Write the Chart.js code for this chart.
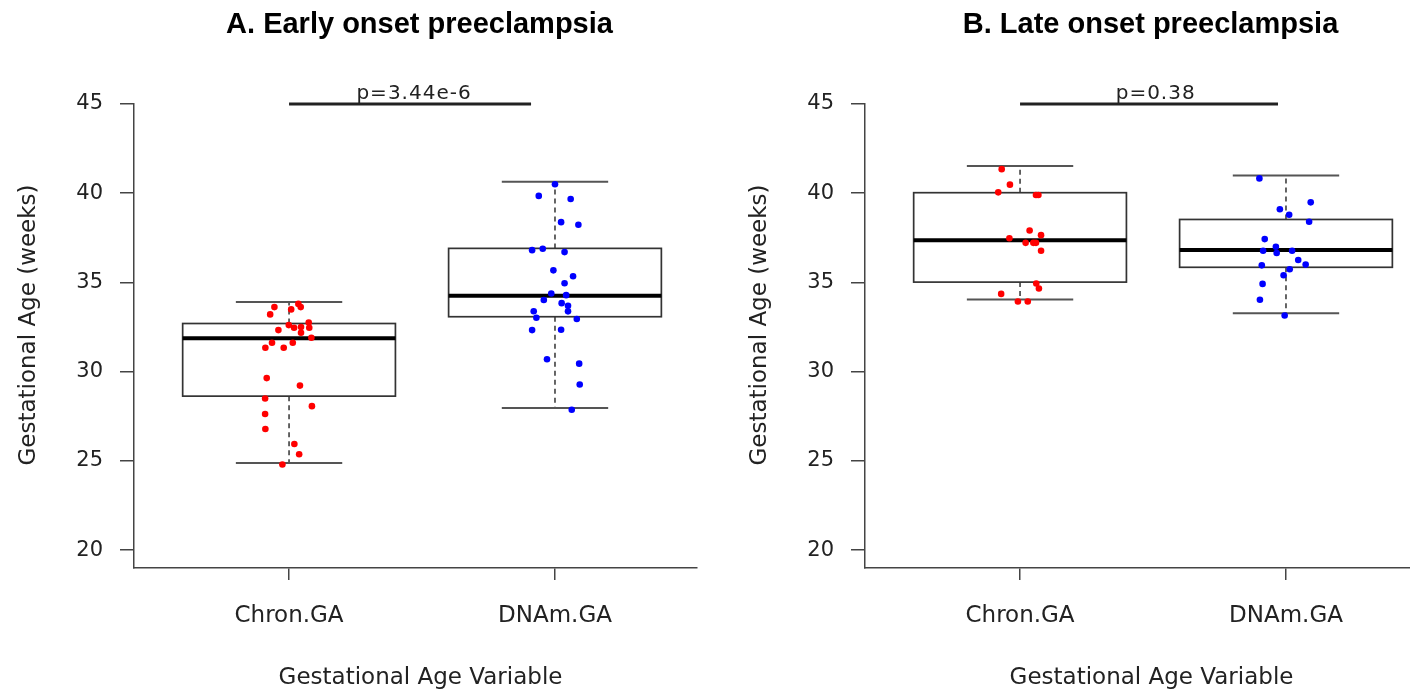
<!DOCTYPE html>
<html>
<head>
<meta charset="utf-8">
<script src="https://cdn.jsdelivr.net/npm/chart.js@4/dist/chart.umd.min.js"></script>
<style>
  html, body { margin: 0; padding: 0; background: #fff; overflow: hidden; width: 1410px; height: 691px; }
  .panel { position: absolute; top: 0; width: 731px; height: 691px; }
  #panelA { left: 0; }
  #panelB { left: 731px; }
</style>
</head>
<body>
<div class="panel" id="panelA"><canvas id="chartA" width="731" height="691"></canvas></div>
<div class="panel" id="panelB"><canvas id="chartB" width="731" height="691"></canvas></div>
<script>
// ====================== DATA ======================
const groups = ["Chron.GA", "DNAm.GA"];
const yTicks = [20, 25, 30, 35, 40, 45];

// A. Early onset
const earlyChron = [33.62, 33.8, 33.62, 33.49, 33.21, 32.76, 32.61, 32.46, 32.5, 32.46, 32.33, 32.18, 31.9,
  31.62, 31.62, 31.34, 31.34, 29.64, 29.22, 28.5, 28.07, 27.63, 26.79, 25.95, 25.37, 24.8];
const earlyChronJitter = [-0.055, 0.035, 0.044, 0.008, -0.071, 0.074, -0.001, 0.019, 0.045, 0.076, -0.040, 0.045, 0.084,
  -0.064, 0.014, -0.089, -0.020, -0.084, 0.041, -0.090, 0.086, -0.090, -0.089, 0.020, 0.038, -0.025];
const earlyDnam = [40.5, 39.85, 39.68, 38.38, 38.23, 36.81, 36.89, 36.7, 35.68, 35.35, 34.96, 34.38, 34.29,
  34.02, 33.84, 33.69, 33.38, 33.39, 33.02, 32.95, 32.33, 32.35, 30.7, 30.45, 29.28, 27.87];
const earlyDnamJitter = [0, -0.061, 0.059, 0.023, 0.088, -0.086, -0.046, 0.036, -0.006, 0.068, 0.036, -0.014, 0.042,
  -0.042, 0.025, 0.049, 0.049, -0.080, -0.070, 0.082, -0.086, 0.023, -0.030, 0.091, 0.093, 0.063];
// [lower whisker, q1, median, q3, upper whisker]
const earlyChronBox = [24.88, 28.63, 31.87, 32.70, 33.91];
const earlyDnamBox = [27.96, 33.08, 34.25, 36.91, 40.64];

// B. Late onset
const lateChron = [41.35, 40.48, 40.05, 39.9, 39.9, 37.91, 37.65, 37.48, 37.22, 37.22, 37.22, 36.78,
  34.94, 34.66, 34.36, 33.93, 33.93];
const lateChronJitter = [-0.069, -0.038, -0.082, 0.060, 0.069, 0.036, 0.079, -0.040, 0.021, 0.050, 0.060, 0.079,
  0.061, 0.071, -0.071, -0.008, 0.029];
const lateDnam = [40.83, 39.49, 39.1, 38.79, 38.4, 37.43, 37.0, 36.78, 36.65, 36.78, 36.26, 36.0, 35.96,
  35.74, 35.4, 34.92, 34.03, 33.15];
const lateDnamJitter = [-0.100, 0.093, -0.023, 0.012, 0.087, -0.080, -0.038, -0.086, -0.035, 0.023, 0.046, 0.074, -0.091,
  0.014, -0.009, -0.088, -0.098, -0.005];
const lateChronBox = [34.05, 35.02, 37.36, 40.03, 41.52];
const lateDnamBox = [33.27, 35.85, 36.82, 38.53, 41.0];

const fontFam = '"DejaVu Sans", sans-serif';
const axisColor = "#444";

// ====================== BOX PLOT PLUGIN ======================
const boxPlugin = {
  id: "boxPlot",
  beforeDatasetsDraw(chart, args, opts) {
    const { ctx } = chart;
    const x = chart.scales.x, y = chart.scales.y;
    opts.boxes.forEach((b, i) => {
      const cx = i + 1;
      const left = x.getPixelForValue(cx - 0.4), right = x.getPixelForValue(cx + 0.4);
      const capL = x.getPixelForValue(cx - 0.2), capR = x.getPixelForValue(cx + 0.2);
      const mid = x.getPixelForValue(cx);
      const [lo, q1, med, q3, hi] = b.map(v => y.getPixelForValue(v));
      ctx.save();
      // whiskers
      ctx.strokeStyle = "#333";
      ctx.lineWidth = 1.5;
      ctx.setLineDash([5, 4]);
      ctx.beginPath();
      ctx.moveTo(mid, q3); ctx.lineTo(mid, hi);
      ctx.moveTo(mid, q1); ctx.lineTo(mid, lo);
      ctx.stroke();
      ctx.setLineDash([]);
      ctx.strokeStyle = "#555";
      ctx.lineWidth = 2;
      ctx.beginPath();
      ctx.moveTo(capL, hi); ctx.lineTo(capR, hi);
      ctx.moveTo(capL, lo); ctx.lineTo(capR, lo);
      ctx.stroke();
      // box
      ctx.strokeStyle = "#333";
      ctx.lineWidth = 1.7;
      ctx.strokeRect(left, q3, right - left, q1 - q3);
      // median
      ctx.strokeStyle = "#000";
      ctx.lineWidth = 4;
      ctx.beginPath();
      ctx.moveTo(left, med); ctx.lineTo(right, med);
      ctx.stroke();
      ctx.restore();
    });
  },
  afterDraw(chart, args, opts) {
    const { ctx, chartArea } = chart;
    const x = chart.scales.x, y = chart.scales.y;
    ctx.save();
    // title
    ctx.fillStyle = "#000";
    ctx.font = 'bold 29px "Liberation Sans", Arial, sans-serif';
    ctx.textAlign = "center";
    ctx.textBaseline = "alphabetic";
    ctx.fillText(opts.title, (chartArea.left + chartArea.right) / 2 + 4, 33);
    // axis titles
    ctx.fillStyle = "#222";
    ctx.font = "23px " + fontFam;
    ctx.fillText("Gestational Age Variable", (chartArea.left + chartArea.right) / 2 + 5, 684);
    ctx.save();
    ctx.translate(29, 325);
    ctx.rotate(-Math.PI / 2);
    ctx.textBaseline = "middle";
    ctx.fillText("Gestational Age (weeks)", 0, 0);
    ctx.restore();
    // p-value bar
    const py = y.getPixelForValue(45);
    ctx.strokeStyle = "#222";
    ctx.lineWidth = 3;
    ctx.beginPath();
    ctx.moveTo(x.getPixelForValue(opts.pFrom), py);
    ctx.lineTo(x.getPixelForValue(opts.pTo), py);
    ctx.stroke();
    ctx.font = "20px " + fontFam;
    ctx.letterSpacing = "1px";
    ctx.fillText(opts.pLabel, x.getPixelForValue(opts.pLabelX), py - 5);
    ctx.restore();
  }
};

// ====================== CREATE PANEL ======================
function createPanel(canvasId, title, chronVals, chronJit, dnamVals, dnamJit, chronBox, dnamBox, pLabel, pTo, pLabelX) {
  const ctx = document.getElementById(canvasId).getContext("2d");
  return new Chart(ctx, {
    type: "scatter",
    data: {
      datasets: [
        { data: chronVals.map((v, i) => ({ x: 1 + chronJit[i], y: v })), backgroundColor: "#ff0000" },
        { data: dnamVals.map((v, i) => ({ x: 2 + dnamJit[i], y: v })), backgroundColor: "#0000ff" }
      ]
    },
    options: {
      responsive: false,
      animation: false,
      layout: { padding: { top: 104, right: 34, bottom: 0, left: 0 } },
      elements: { point: { radius: 3.3, borderWidth: 0, hoverRadius: 3.3 } },
      plugins: {
        legend: { display: false },
        tooltip: { enabled: false },
        boxPlot: { boxes: [chronBox, dnamBox], title, pLabel, pFrom: 1, pTo, pLabelX }
      },
      scales: {
        x: {
          type: "linear",
          min: 0.417,
          max: 2.534,
          afterBuildTicks: s => { s.ticks = groups.map((g, i) => ({ value: i + 1 })); },
          afterFit: s => { s.height = 123; },
          grid: { drawOnChartArea: false, tickLength: 12, color: axisColor, lineWidth: 1.5 },
          border: { color: axisColor, width: 1.5 },
          ticks: {
            callback: (v, i) => groups[i],
            font: { family: fontFam, size: 23 },
            color: "#222",
            padding: 22,
            maxRotation: 0
          }
        },
        y: {
          min: 19,
          max: 45,
          afterBuildTicks: s => { s.ticks = yTicks.map(v => ({ value: v })); },
          afterFit: s => { s.width = 134; },
          grid: { drawOnChartArea: false, tickLength: 14, color: axisColor, lineWidth: 1.5 },
          border: { color: axisColor, width: 1.5 },
          ticks: { font: { family: fontFam, size: 21 }, color: "#222", padding: 17 }
        }
      }
    },
    plugins: [boxPlugin]
  });
}

// ====================== INIT ======================
createPanel("chartA", "A. Early onset preeclampsia", earlyChron, earlyChronJitter, earlyDnam, earlyDnamJitter,
  earlyChronBox, earlyDnamBox, "p=3.44e-6", 1.91, 1.47);
createPanel("chartB", "B. Late onset preeclampsia", lateChron, lateChronJitter, lateDnam, lateDnamJitter,
  lateChronBox, lateDnamBox, "p=0.38", 1.97, 1.51);
</script>
</body>
</html>
